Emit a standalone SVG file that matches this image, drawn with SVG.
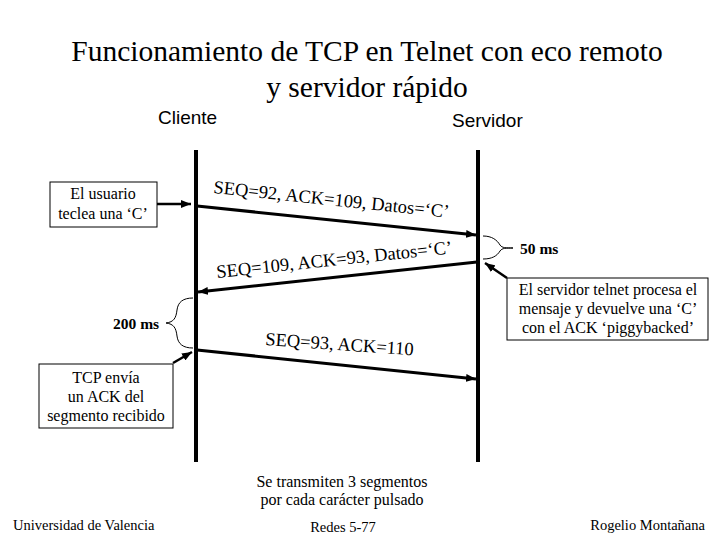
<svg xmlns="http://www.w3.org/2000/svg" width="720" height="540" viewBox="0 0 720 540">
<style>
  .t { font-family: "Liberation Serif", "Times New Roman", serif; fill: #000; }
  .a { font-family: "Liberation Sans", Arial, sans-serif; fill: #000; }
  .box { fill: #fff; stroke: #000; stroke-width: 1; }
  .life { stroke: #000; stroke-width: 4; }
  .msg { stroke: #000; stroke-width: 3; fill: none; }
  .ptr { stroke: #000; stroke-width: 2.5; fill: none; }
  .brace { stroke: #000; stroke-width: 1; fill: none; }
</style>
<defs>
  <marker id="ah" viewBox="0 0 10 8" refX="10" refY="4" markerWidth="10" markerHeight="8" markerUnits="userSpaceOnUse" orient="auto">
    <path d="M0,0 L10,4 L0,8 z" fill="#000"/>
  </marker>
</defs>
<rect width="720" height="540" fill="#fff"/>

<g id="title">
  <text class="t" x="367" y="61" font-size="29.5" text-anchor="middle">Funcionamiento de TCP en Telnet con eco remoto</text>
  <text class="t" x="367" y="97" font-size="29.5" text-anchor="middle">y servidor rápido</text>
</g>

<g id="cliente">
  <text class="a" x="158" y="124" font-size="19">Cliente</text>
  <line class="life" x1="196" y1="150" x2="196" y2="462"/>
</g>
<g id="servidor">
  <text class="a" x="452" y="127" font-size="19">Servidor</text>
  <line class="life" x1="478" y1="150" x2="478" y2="462"/>
</g>

<g id="connectors">
  <line class="msg" x1="197" y1="206" x2="476" y2="235" marker-end="url(#ah)"/>
  <line class="msg" x1="477" y1="262" x2="198" y2="292" marker-end="url(#ah)"/>
  <line class="msg" x1="197" y1="350" x2="476" y2="379" marker-end="url(#ah)"/>
  <line class="ptr" x1="157" y1="204" x2="191" y2="204" marker-end="url(#ah)"/>
  <line class="ptr" x1="507" y1="278" x2="485" y2="263" marker-end="url(#ah)"/>
  <line class="ptr" x1="173" y1="363" x2="192" y2="352" marker-end="url(#ah)"/>
</g>

<g id="msg1-label">
  <text class="t" x="213" y="193" font-size="18.5" transform="rotate(6 213 193)">SEQ=92, ACK=109, Datos=‘C’</text>
</g>
<g id="msg2-label">
  <text class="t" x="217" y="278" font-size="18.5" transform="rotate(-6 217 278)">SEQ=109, ACK=93, Datos=‘C’</text>
</g>
<g id="msg3-label">
  <text class="t" x="265" y="345" font-size="18.5" transform="rotate(4 265 345)">SEQ=93, ACK=110</text>
</g>

<g id="usuario">
  <rect class="box" x="50" y="182" width="107" height="45"/>
  <text class="t" x="103" y="199" font-size="16" text-anchor="middle">El usuario</text>
  <text class="t" x="103" y="219" font-size="16" text-anchor="middle">teclea una ‘C’</text>
</g>

<g id="brace-50">
  <path class="brace" d="M483,236 C492,236 497,240 500,245 C502,248 506,248 513,248 C506,248 502,248 500,251 C497,256 492,259 483,259"/>
  <text class="t" x="520" y="254" font-size="15.5" font-weight="bold">50 ms</text>
</g>

<g id="servidor-nota">
  <rect class="box" x="507" y="278" width="201" height="62"/>
  <text class="t" x="608" y="295" font-size="16" text-anchor="middle">El servidor telnet procesa el</text>
  <text class="t" x="608" y="314" font-size="16" text-anchor="middle">mensaje y devuelve una ‘C’</text>
  <text class="t" x="608" y="333" font-size="16" text-anchor="middle">con el ACK ‘piggybacked’</text>
</g>

<g id="brace-200">
  <path class="brace" d="M193,298 C183,298 178,302 177,310 C176,318 174,322 166,323 C174,324 176,328 177,336 C178,344 183,348 193,348"/>
  <text class="t" x="113" y="329" font-size="15.5" font-weight="bold">200 ms</text>
</g>

<g id="tcp-nota">
  <rect class="box" x="39" y="364" width="134" height="64"/>
  <text class="t" x="106" y="383" font-size="16" text-anchor="middle">TCP envía</text>
  <text class="t" x="106" y="402" font-size="16" text-anchor="middle">un ACK del</text>
  <text class="t" x="106" y="421" font-size="16" text-anchor="middle">segmento recibido</text>
</g>

<g id="resumen">
  <text class="t" x="342" y="487" font-size="16" text-anchor="middle">Se transmiten 3 segmentos</text>
  <text class="t" x="342" y="505" font-size="16" text-anchor="middle">por cada carácter pulsado</text>
</g>

<g id="footer">
  <text class="t" x="13" y="530" font-size="14.5">Universidad de Valencia</text>
  <text class="t" x="343" y="532" font-size="14.5" text-anchor="middle">Redes 5-77</text>
  <text class="t" x="705" y="530" font-size="14.5" text-anchor="end">Rogelio Montañana</text>
</g>
</svg>
